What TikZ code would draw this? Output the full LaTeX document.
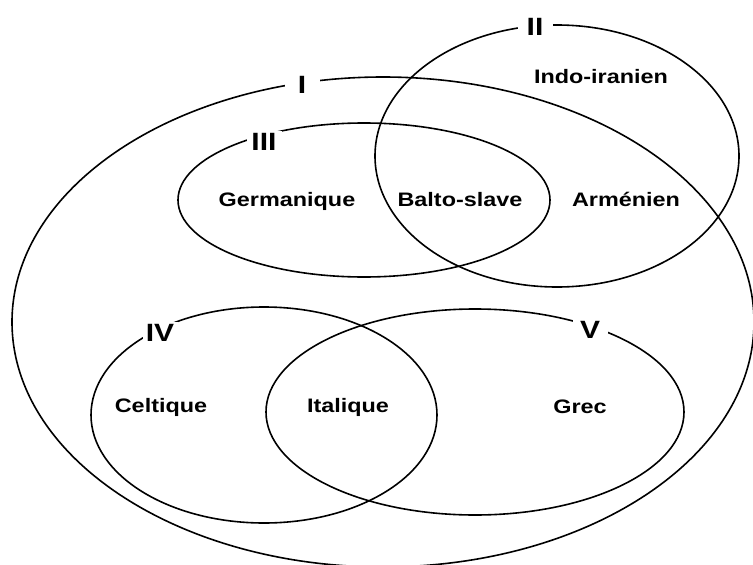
\documentclass[tikz,border=0pt]{standalone}
\usepackage{fontspec}
\setmainfont{Liberation Sans}
\usetikzlibrary{shapes.geometric}
\newcommand\widetext[1]{\scalebox{1.2}[1]{#1}}
\tikzset{
  ell/.style={ellipse, draw=black, line width=1.6pt, inner sep=0pt, outer sep=0pt},
  numlbl/.style={fill=white, inner sep=0pt, minimum width=35pt, minimum height=22pt,
    font=\bfseries\fontsize{25}{27}\selectfont},
  word/.style={anchor=base, inner sep=0pt, font=\bfseries\fontsize{19.5}{21}\selectfont}
}
\begin{document}
\begin{tikzpicture}[x=1pt,y=-1pt]
\useasboundingbox (0,0) rectangle (753,565);
\clip (0,0) rectangle (753,565);
% ellipses
\node[ell, minimum width=742pt, minimum height=490pt] (E1) at (383,322) {};
\node[ell, minimum width=364pt, minimum height=262pt] (E2) at (557,156) {};
\node[ell, minimum width=372pt, minimum height=154pt] (E3) at (364,200) {};
\node[ell, minimum width=346pt, minimum height=216pt] (E4) at (264,415) {};
\node[ell, minimum width=418pt, minimum height=206pt] (E5) at (475,412) {};
% roman numerals on the outlines
\node[numlbl] (n1) at (302,85) {\widetext{I}};
\node[numlbl] (n2) at (535,27) {\widetext{II}};
\node[numlbl] (n3) at (264,142) {\widetext{III}};
\node[numlbl] (n4) at (160,333) {\widetext{IV}};
\node[numlbl] (n5) at (590,330) {\widetext{V}};
% language names
\node[word] (indo) at (601,83) {\widetext{Indo-iranien}};
\node[word] (germ) at (287,206) {\widetext{Germanique}};
\node[word] (balto) at (460,206) {\widetext{Balto-slave}};
\node[word] (armen) at (626,206) {\widetext{Arménien}};
\node[word] (celt) at (161,412) {\widetext{Celtique}};
\node[word] (ital) at (348,412) {\widetext{Italique}};
\node[word] (grec) at (580,413) {\widetext{Grec}};
\end{tikzpicture}
\end{document}
